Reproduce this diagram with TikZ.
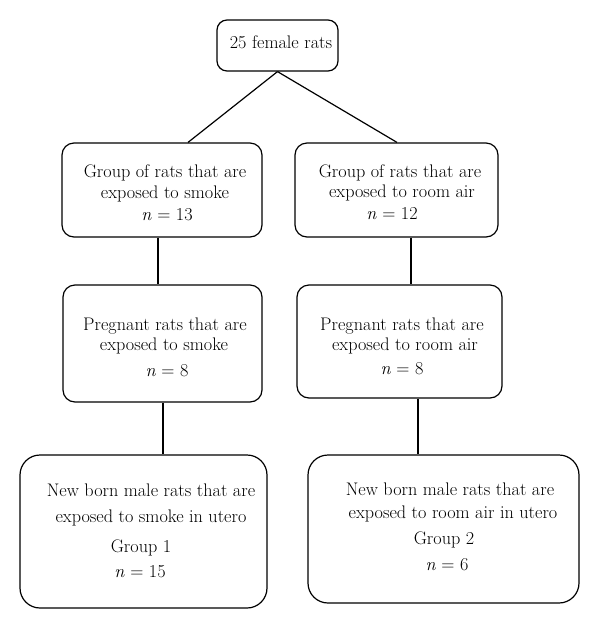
\documentclass[tikz,border=0pt]{standalone}
\begin{document}
\begin{tikzpicture}[x=1pt,y=-1pt,
  box/.style={draw,line width=1.2pt,rounded corners=12pt,inner sep=0pt},
  bigbox/.style={box,rounded corners=20pt},
  txt/.style={anchor=base,inner sep=0pt,font=\fontsize{18.2}{22}\selectfont},
  link/.style={line width=1.2pt}]
\useasboundingbox (0,0) rectangle (600,630);
% boxes
\node[box,rounded corners=10pt,minimum width=121pt,minimum height=51pt] (top) at (277.5,45.5) {};
\node[box,minimum width=200pt,minimum height=94pt] (b1l) at (162,190) {};
\node[box,minimum width=203pt,minimum height=94pt] (b1r) at (396.5,190) {};
\node[box,minimum width=199pt,minimum height=117pt] (b2l) at (162.5,343.5) {};
\node[box,minimum width=205pt,minimum height=113pt] (b2r) at (399.5,341.5) {};
\node[bigbox,minimum width=247pt,minimum height=153pt] (b3l) at (143.5,531.5) {};
\node[bigbox,minimum width=271pt,minimum height=148pt] (b3r) at (443.5,529) {};
% texts
\node[txt] (t0) at (281,48) {25 female rats};
\node[txt] (t1a) at (165,177) {Group of rats that are};
\node[txt] (t1b) at (165,198) {exposed to smoke};
\node[txt] (t1c) at (167,220) {\textit{n} = 13};
\node[txt] (t2a) at (400,177) {Group of rats that are};
\node[txt] (t2b) at (402,197) {exposed to room air};
\node[txt] (t2c) at (392,219) {\textit{n} = 12};
\node[txt] (t3a) at (165,330) {Pregnant rats that are};
\node[txt] (t3b) at (164,350) {exposed to smoke};
\node[txt] (t3c) at (167,376) {\textit{n} = 8};
\node[txt] (t4a) at (402,330) {Pregnant rats that are};
\node[txt] (t4b) at (405,350) {exposed to room air};
\node[txt] (t4c) at (402,374) {\textit{n} = 8};
\node[txt] (t5a) at (151,496) {New born male rats that are};
\node[txt] (t5b) at (151,522) {exposed to smoke in utero};
\node[txt] (t5c) at (141,552) {Group 1};
\node[txt] (t5d) at (140,577) {\textit{n} = 15};
\node[txt] (t6a) at (450,495) {New born male rats that are};
\node[txt] (t6b) at (453,518) {exposed to room air in utero};
\node[txt] (t6c) at (444,544) {Group 2};
\node[txt] (t6d) at (447,570) {\textit{n} = 6};
% connectors
\draw[link] (top.south) -- ([xshift=26pt]b1l.north);
\draw[link] (top.south) -- ([xshift=0.5pt]b1r.north);
\draw[link] ([xshift=-4pt]b1l.south) -- ([xshift=-4pt]b1l.south |- b2l.north);
\draw[link] ([xshift=14.5pt]b1r.south) -- ([xshift=14.5pt]b1r.south |- b2r.north);
\draw[link] ([xshift=0.5pt]b2l.south) -- ([xshift=0.5pt]b2l.south |- b3l.north);
\draw[link] ([xshift=18.5pt]b2r.south) -- ([xshift=18.5pt]b2r.south |- b3r.north);
\end{tikzpicture}
\end{document}
